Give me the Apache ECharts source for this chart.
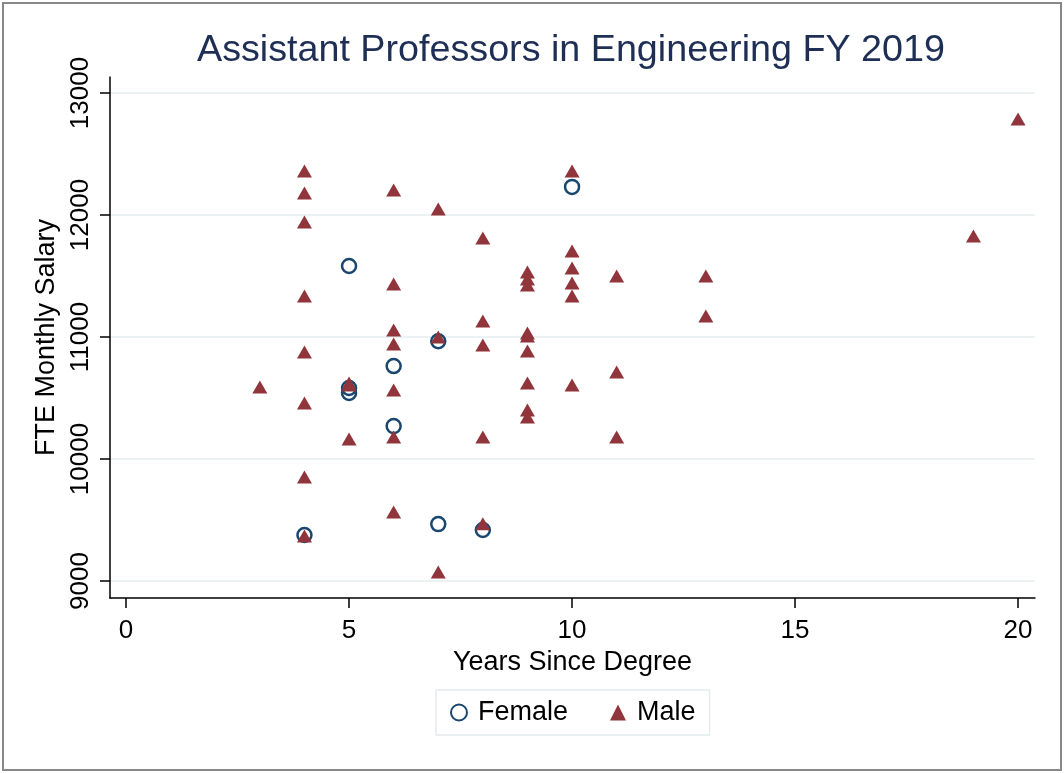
<!DOCTYPE html>
<html>
<head>
<meta charset="utf-8">
<script src="https://cdn.jsdelivr.net/npm/echarts@6/dist/echarts.min.js"></script>
<style>
  html, body { margin: 0; padding: 0; background: #fff; }
  #chart { width: 1064px; height: 773px; }
</style>
</head>
<body>
<div id="chart"></div>
<script>
// years since degree / FTE monthly salary
var femaleYears  = [4, 5, 5, 5, 6, 6, 7, 7, 8, 10]
var femaleSalary = [9377, 11582, 10582, 10541, 10762, 10270, 10965, 9467, 9418, 12230]

var maleYears  = [3, 4, 4, 4, 4, 4, 4, 4, 4,
                  5, 5, 5,
                  6, 6, 6, 6, 6, 6, 6,
                  7, 7, 7,
                  8, 8, 8, 8, 8,
                  9, 9, 9, 9, 9, 9, 9, 9, 9,
                  10, 10, 10, 10, 10, 10,
                  11, 11, 11, 13, 13, 19, 20]
var maleSalary = [10590, 12361, 12180, 11943, 11336, 10877, 10459, 9852, 9369,
                  10623, 10606, 10164,
                  12205, 11434, 11057, 10943, 10566, 10180, 9566,
                  12049, 11000, 9074,
                  11811, 11131, 10934, 10180, 9470,
                  11533, 11475, 11426, 11033, 11008, 10885, 10623, 10402, 10344,
                  12361, 11705, 11566, 11443, 11336, 10607,
                  11500, 10713, 10180, 11500, 11172, 11828, 12787]

var xTicks = [0, 5, 10, 15, 20]
var yTicks = [9000, 10000, 11000, 12000, 13000]

function pairs(xs, ys) {
  var out = []
  for (var i = 0; i < xs.length; i++) out.push([xs[i], ys[i]])
  return out
}

var font = '"Liberation Sans", Arial, Helvetica, sans-serif'
var chart = echarts.init(document.getElementById('chart'))

chart.setOption({
  backgroundColor: '#fff',
  animation: false,
  title: {
    text: 'Assistant Professors in Engineering FY 2019',
    left: 192,
    top: 27,
    textStyle: { fontFamily: font, fontWeight: 'normal', fontSize: 37.7, color: '#1e2e55' }
  },
  grid: { left: 110, right: 29, top: 77, bottom: 175 },
  xAxis: {
    type: 'value',
    min: -0.36,
    max: 20.38,
    name: 'Years Since Degree',
    nameLocation: 'middle',
    nameGap: 44,
    nameTextStyle: { fontFamily: font, fontSize: 27, color: '#000' },
    axisLine: { show: true, onZero: false, lineStyle: { color: '#000', width: 1.5 } },
    axisTick: { show: true, length: 10, customValues: xTicks, lineStyle: { color: '#000', width: 1.5 } },
    axisLabel: { customValues: xTicks, margin: 20, fontFamily: font, fontSize: 26, color: '#000' },
    splitLine: { show: false }
  },
  yAxis: {
    type: 'value',
    min: 8861,
    max: 13131,
    name: 'FTE Monthly Salary',
    nameLocation: 'middle',
    nameGap: 42,
    nameTextStyle: { fontFamily: font, fontSize: 27, color: '#000' },
    axisLine: { show: true, onZero: false, lineStyle: { color: '#000', width: 1.5 } },
    axisTick: { show: true, length: 10, customValues: yTicks, lineStyle: { color: '#000', width: 1.5 } },
    axisLabel: {
      customValues: yTicks, rotate: 90, margin: 16,
      fontFamily: font, fontSize: 26, color: '#000',
      formatter: function (v) { return String(v) }
    },
    splitLine: { show: true, lineStyle: { color: '#eaf2f3', width: 2 } }
  },
  legend: {
    left: 436,
    bottom: 38,
    orient: 'horizontal',
    padding: [9, 14],
    itemGap: 42,
    itemWidth: 16,
    itemHeight: 16,
    borderColor: '#e3ecee',
    borderWidth: 1.5,
    borderRadius: 0,
    textStyle: { fontFamily: font, fontSize: 27, color: '#000', padding: [0, 0, 0, 6] },
    data: ['Female', 'Male']
  },
  series: [
    {
      name: 'Female',
      type: 'scatter',
      symbol: 'circle',
      symbolSize: 14,
      itemStyle: { color: 'rgba(0,0,0,0)', borderColor: '#1a476f', borderWidth: 2.5, opacity: 1 },
      data: pairs(femaleYears, femaleSalary)
    },
    {
      name: 'Male',
      type: 'scatter',
      symbol: 'triangle',
      symbolSize: [15, 13],
      itemStyle: { color: '#90353b', opacity: 1 },
      data: pairs(maleYears, maleSalary)
    }
  ],
  graphic: [
    {
      type: 'rect',
      shape: { x: 3, y: 3, width: 1058, height: 767 },
      style: { fill: 'none', stroke: '#888', lineWidth: 2 },
      silent: true
    }
  ]
})
</script>
</body>
</html>
